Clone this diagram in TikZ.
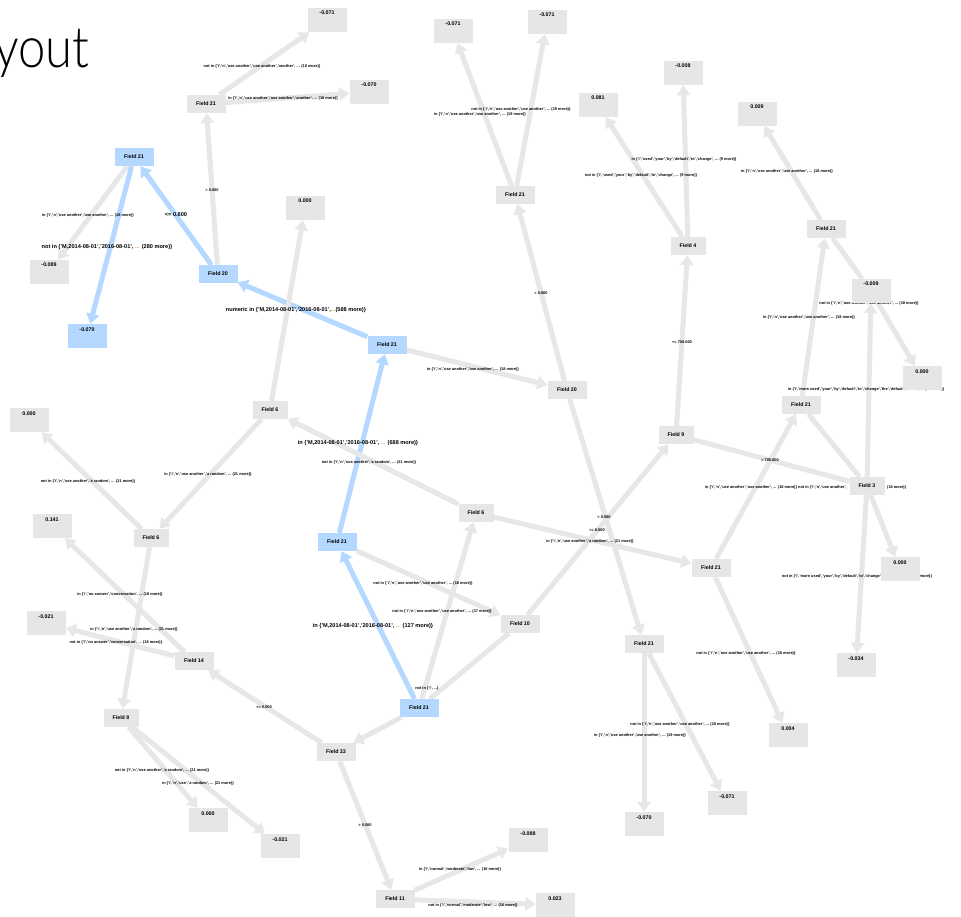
\documentclass[tikz,border=0pt]{standalone}
\usepackage{fontspec}
\setmainfont{Liberation Sans}
\IfFontExistsTF{Lato Light}
  {\newfontfamily\titlefont{Lato Light}}
  {\newfontfamily\titlefont{Open Sans}}
\usetikzlibrary{arrows.meta}
\definecolor{boxgray}{RGB}{230,230,230}
\definecolor{boxblue}{RGB}{180,216,255}
\definecolor{edgegray}{RGB}{231,231,231}
\definecolor{edgeblue}{RGB}{180,216,255}
\definecolor{dotcol}{RGB}{240,140,40}
\pgfdeclarelayer{paper}
\pgfdeclarelayer{edges}
\pgfsetlayers{paper,edges,main}
\tikzset{
  fieldbox/.style={rectangle, fill=boxgray, minimum width=39pt, minimum height=18pt,
    inner sep=0pt, font=\fontsize{5.3}{6}\selectfont\bfseries},
  narrow/.style={minimum width=35pt},
  hot/.style={fill=boxblue},
  valbox/.style={rectangle, fill=boxgray, minimum width=39pt, minimum height=24pt,
    inner xsep=0pt, inner ysep=2pt, text height=5pt, text depth=15pt,
    font=\fontsize{5.3}{6}\selectfont\bfseries},
  link/.style={draw=edgegray, line width=5pt, -{Triangle[length=10pt,width=13pt]}},
  hotlink/.style={link, draw=edgeblue},
  bare/.style={draw=edgegray, line width=5pt},
  elabel/.style={inner sep=0pt, font=\fontsize{3.9}{4.5}\selectfont\bfseries},
  blabel/.style={inner sep=0pt, font=\fontsize{5.6}{6}\selectfont\bfseries},
}
\newcommand{\orangedots}{\textcolor{dotcol}{...}}
\begin{document}
\begin{tikzpicture}[x=1pt,y=-1pt]
\useasboundingbox (0,0) rectangle (961,917);
\begin{pgfonlayer}{paper}
\fill[white] (0,0) rectangle (961,917);
\end{pgfonlayer}

% heading (partly outside the page on the left)
\node[anchor=base west, inner sep=0pt, font=\titlefont\fontsize{57}{60}\selectfont] (heading) at (-6,68) {\scalebox{0.86}[1]{yout}};

% split nodes
\node[fieldbox] (f1) at (206,104) {Field 21};
\node[fieldbox,hot] (f2) at (134,157) {Field 21};
\node[fieldbox,hot] (f3) at (218,274) {Field 20};
\node[fieldbox,hot] (f4) at (387,345) {Field 21};
\node[fieldbox] (f5) at (515,195) {Field 21};
\node[fieldbox] (f6) at (567,390) {Field 20};
\node[fieldbox,narrow] (f7) at (688,246) {Field 4};
\node[fieldbox] (f8) at (826,229) {Field 21};
\node[fieldbox] (f9) at (801,405) {Field 21};
\node[fieldbox,narrow] (f10) at (676,435) {Field 9};
\node[fieldbox,narrow] (f11) at (867,486) {Field 3};
\node[fieldbox] (f12) at (711,568) {Field 21};
\node[fieldbox,narrow] (f13) at (270,410) {Field 6};
\node[fieldbox,narrow] (f14) at (476,513) {Field 6};
\node[fieldbox,hot] (f15) at (337,542) {Field 21};
\node[fieldbox,narrow] (f16) at (151,538) {Field 6};
\node[fieldbox] (f17) at (520,624) {Field 10};
\node[fieldbox] (f18) at (194,661) {Field 14};
\node[fieldbox,narrow] (f19) at (121,718) {Field 8};
\node[fieldbox,hot] (f20) at (419,708) {Field 21};
\node[fieldbox] (f21) at (336,752) {Field 33};
\node[fieldbox] (f22) at (395,899) {Field 11};
\node[fieldbox] (f23) at (644,644) {Field 21};

% leaf values
\node[valbox] (v1) at (327,20) {-0.071};
\node[valbox] (v2) at (369,92) {-0.070};
\node[valbox] (v3) at (453,31) {-0.071};
\node[valbox] (v4) at (547,22) {-0.071};
\node[valbox] (v5) at (598,105) {0.081};
\node[valbox] (v6) at (683,73) {-0.008};
\node[valbox] (v7) at (757,114) {0.009};
\node[valbox] (v8) at (871,291) {-0.009};
\node[valbox] (v9) at (922,378) {0.000};
\node[valbox] (v10) at (900,569) {0.000};
\node[valbox] (v11) at (856,665) {-0.034};
\node[valbox] (v12) at (788,735) {0.004};
\node[valbox] (v13) at (727,803) {-0.071};
\node[valbox] (v14) at (644,824) {-0.070};
\node[valbox] (v15) at (528,840) {-0.088};
\node[valbox] (v16) at (555,905) {0.023};
\node[valbox] (v17) at (208,820) {0.000};
\node[valbox] (v18) at (280,846) {-0.021};
\node[valbox] (v19) at (46,623) {-0.021};
\node[valbox] (v20) at (52,526) {0.141};
\node[valbox] (v21) at (29,420) {0.000};
\node[valbox,hot] (v22) at (87,336) {-0.070};
\node[valbox] (v23) at (49,272) {-0.089};
\node[valbox] (v24) at (305,208) {0.000};

\begin{pgfonlayer}{edges}
% connectors
\draw[link] (f1) -- (v1);
\draw[link] (f1) -- (v2);
\draw[link] (f3) -- (f1);
\draw[hotlink] (f3) -- (f2);
\draw[link] (f2) -- (v23);
\draw[hotlink] (f2) -- (v22);
\draw[hotlink] (f4) -- (f3);
\draw[link] (f4) -- (f6);
\draw[link] (f13) -- (v24);
\draw[hotlink] (f15) -- (f4);
\draw[link] (f14) -- (f13);
\draw[link] (f14) -- (f12);
\draw[link] (f13) -- (f16);
\draw[link] (f16) -- (v21);
\draw[link] (f16) -- (f19);
\draw[link] (f18) -- (v20);
\draw[link] (f18) -- (v19);
\draw[link] (f21) -- (f18);
\draw[link] (f21) -- (f22);
\draw[link] (f22) -- (v15);
\draw[link] (f22) -- (v16);
\draw[link] (f19) -- (v17);
\draw[link] (f19) -- (v18);
\draw[link] (f15) -- (f17);
\draw[hotlink] (f20) -- (f15);
\draw[link] (f20) -- (f21);
\draw[link] (f20) -- (f14);
\draw[bare] (f20) -- (f17);
\draw[link] (f17) -- (f10);
\draw[link] (f6) -- (f5);
\draw[link] (f6) -- (f23);
\draw[link] (f5) -- (v3);
\draw[link] (f5) -- (v4);
\draw[link] (f10) -- (f7);
\draw[link] (f7) -- (v6);
\draw[link] (f7) -- (v5);
\draw[bare] (f10) -- (f11);
\draw[link] (f12) -- (f9);
\draw[link] (f12) -- (v12);
\draw[link] (f9) -- (f8);
\draw[bare] (f9) -- (f11);
\draw[link] (f8) -- (v7);
\draw[bare] (f8) -- (v8);
\draw[link] (v8) -- (v9);
\draw[link] (f11) -- (v8);
\draw[link] (f11) -- (v10);
\draw[link] (f11) -- (v11);
\draw[link] (f23) -- (v14);
\draw[link] (f23) -- (v13);

% connector labels
\node[elabel] (l1) at (262,66) {not in \{'i','n','use another','use another','another', ... (18 more)\}};
\node[elabel] (l2) at (283,98) {in \{'i','n','use another','use another','another', ... (18 more)\}};
\node[elabel] (l3) at (212,190) {> 0.000};
\node[blabel] (l4) at (176,215) {<= 0.800};
\node[elabel] (l5) at (88,215) {in \{'i','n','use another','use another', ... (18 more)\}};
\node[blabel] (l6) at (107,247) {not in \{'M,2014-08-01','2016-08-01', \orangedots{} (280 more)\}};
\node[blabel] (l7) at (296,310) {numeric in \{'M,2014-08-01','2016-08-01',\orangedots(588 more)\}};
\node[elabel] (l8) at (473,369) {in \{'i','n','use another','use another', ... (18 more)\}};
\node[blabel] (l9) at (358,443) {in \{'M,2014-08-01','2016-08-01', \orangedots{} (688 more)\}};
\node[elabel] (l10) at (369,462) {not in \{'i','n','use another','a random', ... (21 more)\}};
\node[elabel] (l11) at (208,474) {in \{'i','n','use another','a random', ... (21 more)\}};
\node[elabel] (l12) at (88,481) {not in \{'i','n','use another','a random', ... (21 more)\}};
\node[elabel] (l13) at (120,594) {in \{'i','no answer','conversation', ... (18 more)\}};
\node[elabel] (l14) at (134,629) {in \{'i','n','use another','a random', ... (21 more)\}};
\node[elabel] (l15) at (116,642) {not in \{'i','no answer','conversation', ... (18 more)\}};
\node[elabel] (l16) at (264,707) {<= 0.500};
\node[elabel] (l17) at (162,770) {not in \{'i','n','use another','a random', ... (21 more)\}};
\node[elabel] (l18) at (198,783) {in \{'i','n','use','a random', ... (21 more)\}};
\node[elabel] (l19) at (365,825) {> 0.500};
\node[elabel] (l20) at (460,869) {in \{'i','normal','moderate','low', ... (16 more)\}};
\node[elabel] (l21) at (473,905) {not in \{'i','normal','moderate','low', ... (16 more)\}};
\node[elabel] (l22) at (427,688) {not in \{'i', ...\}};
\node[elabel] (l23) at (423,583) {not in \{'i','n','use another','use another', ... (18 more)\}};
\node[elabel] (l24) at (442,611) {not in \{'i','n','use another','use another', ... (17 more)\}};
\node[blabel] (l25) at (373,626) {in \{'M,2014-08-01','2016-08-01', \orangedots{} (127 more)\}};
\node[elabel] (l26) at (541,293) {> 0.000};
\node[elabel] (l27) at (521,109) {not in \{'i','n','use another','use another', ... (19 more)\}};
\node[elabel] (l28) at (480,114) {in \{'i','n','use another','use another', ... (19 more)\}};
\node[elabel] (l29) at (684,160) {in \{'i','used','your','by','default','to','change', ... (9 more)\}};
\node[elabel] (l30) at (641,176) {not in \{'i','used','your','by','default','to','change', ... (9 more)\}};
\node[elabel] (l31) at (787,171) {in \{'i','n','use another','use another', ... (18 more)\}};
\node[elabel] (l32) at (682,342) {<= 700.000};
\node[elabel] (l33) at (869,303) {not in \{'i','n','use another','use another', ... (18 more)\}};
\node[elabel] (l34) at (809,317) {in \{'i','n','use another','use another', ... (18 more)\}};
\node[elabel] (l35) at (866,389) {in \{'i','more used','your','by','default','to','change','the','default','value', ... (12 more)\}};
\node[elabel] (l36) at (770,460) {> 700.000};
\node[elabel,anchor=east] (l37a) at (847,487) {in \{'i','n','use another','use another', ... (18 more)\} not in \{'i','n','use another',};
\node[elabel,anchor=west] (l37b) at (887,487) {(18 more)\}};
\node[elabel] (l38) at (857,576) {not in \{'i','more used','your','by','default','to','change','the','default', ... (12 more)\}};
\node[elabel] (l39) at (746,653) {not in \{'i','n','use another','use another', ... (18 more)\}};
\node[elabel] (l40) at (680,724) {not in \{'i','n','use another','use another', ... (19 more)\}};
\node[elabel] (l41) at (640,735) {in \{'i','n','use another','use another', ... (19 more)\}};
\node[elabel] (l42) at (604,517) {> 0.500};
\node[elabel] (l43) at (597,530) {<= 0.500};
\node[elabel] (l44) at (590,541) {in \{'i','n','use another','a random', ... (21 more)\}};
\end{pgfonlayer}
\end{tikzpicture}
\end{document}
